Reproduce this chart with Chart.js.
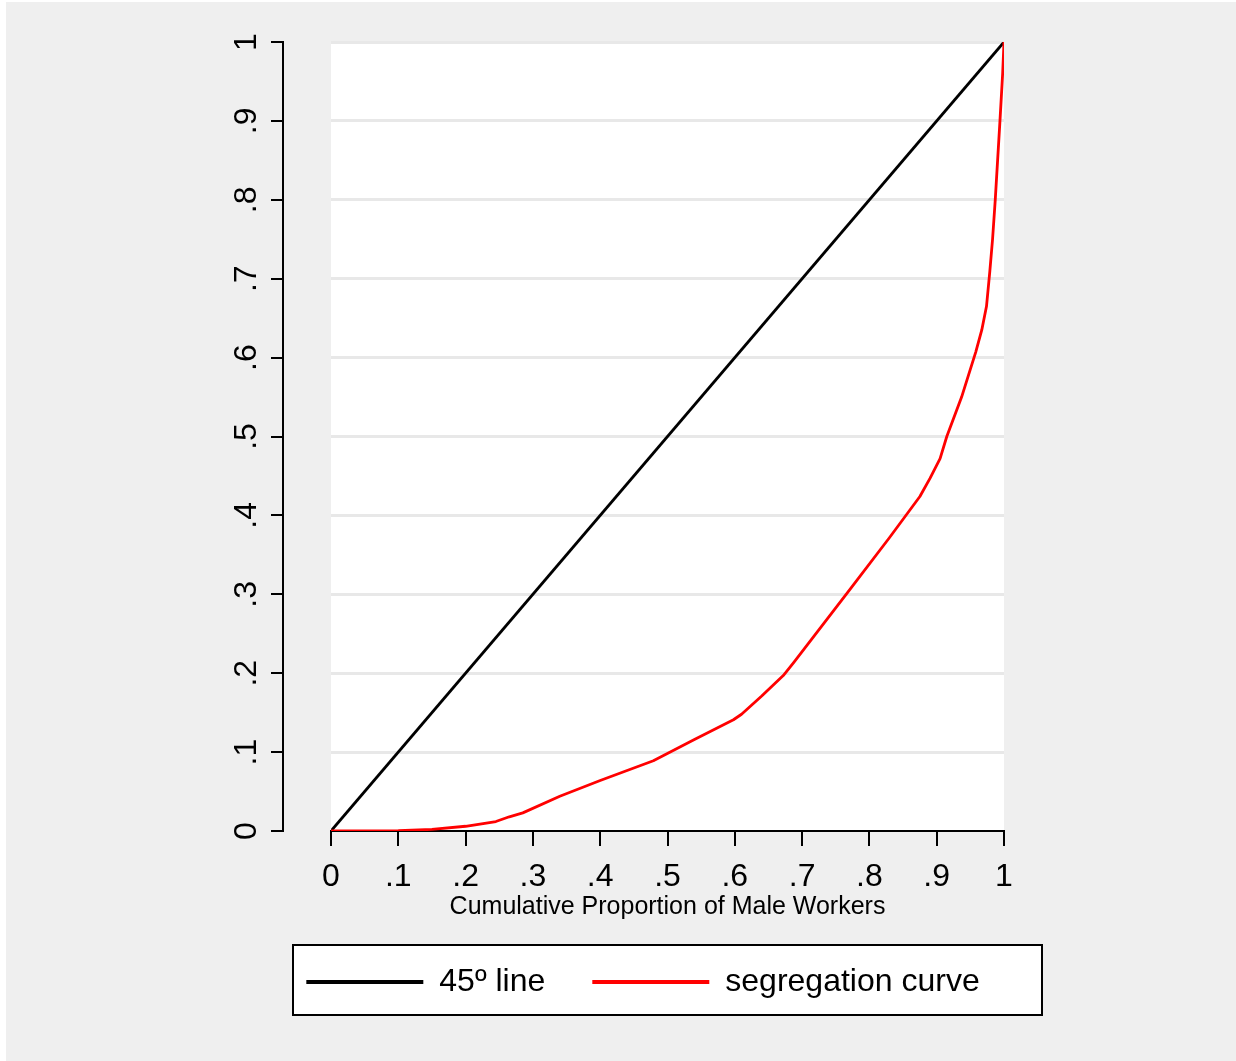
<!DOCTYPE html>
<html><head><meta charset="utf-8">
<script src="https://cdn.jsdelivr.net/npm/chart.js@4/dist/chart.umd.min.js"></script>
<style>html,body{margin:0;padding:0;background:#fff}canvas{display:block}</style>
</head><body>
<canvas id="c" width="1236" height="1061"></canvas>
<script>
const seriesNames = ['45º line', 'segregation curve'];
const diagX = [0, 1];
const diagY = [0, 1];
const segX = [0, 0.05, 0.1, 0.15, 0.2, 0.245, 0.265, 0.285, 0.34, 0.4, 0.479, 0.54, 0.598, 0.61, 0.64, 0.672, 0.688, 0.77, 0.83, 0.875, 0.89, 0.905, 0.915, 0.937, 0.958, 0.967, 0.974, 0.979, 0.983, 0.987, 0.994, 0.998, 1.0];
const segY = [0, 0, 0.0005, 0.002, 0.006, 0.012, 0.018, 0.023, 0.044, 0.064, 0.089, 0.116, 0.141, 0.148, 0.171, 0.197, 0.214, 0.305, 0.372, 0.424, 0.447, 0.472, 0.5, 0.55, 0.607, 0.635, 0.665, 0.71, 0.75, 0.8, 0.9, 0.96, 1.0];
const xTickLabels = ['0', '.1', '.2', '.3', '.4', '.5', '.6', '.7', '.8', '.9', '1'];
const yTickLabels = ['0', '.1', '.2', '.3', '.4', '.5', '.6', '.7', '.8', '.9', '1'];
const xTitle = 'Cumulative Proportion of Male Workers';

const toPoints = (xs, ys) => xs.map((x, i) => ({x: x, y: ys[i]}));

const BG = '#efefef';
const FONT = "'Liberation Sans', Arial, sans-serif";

const stataFrame = {
  id: 'stataFrame',
  beforeDraw(chart) {
    const ctx = chart.ctx, a = chart.chartArea;
    ctx.save();
    ctx.fillStyle = '#fff'; ctx.fillRect(0, 0, chart.width, chart.height);
    ctx.fillStyle = BG; ctx.fillRect(6, 2, chart.width - 6, chart.height - 2);
    ctx.fillStyle = '#fff'; ctx.fillRect(a.left, a.top, a.right - a.left, a.bottom - a.top);
    const lg = chart.legend;
    if (lg && lg.legendHitBoxes && lg.legendHitBoxes.length) {
      const hb = lg.legendHitBoxes[0];
      const cy = hb.top + hb.height / 2;
      const l = a.left - 38, r = a.right + 38, t = cy - 37, b = cy + 33;
      ctx.fillStyle = '#fff'; ctx.fillRect(l, t, r - l, b - t);
      ctx.strokeStyle = '#000'; ctx.lineWidth = 2; ctx.strokeRect(l, t, r - l, b - t);
    }
    ctx.restore();
  }
};

new Chart(document.getElementById('c'), {
  type: 'scatter',
  data: { datasets: [
    { label: seriesNames[0], data: toPoints(diagX, diagY), xAxisID: 'x', yAxisID: 'y', showLine: true,
      borderColor: '#000', backgroundColor: '#000', borderWidth: 2.8, pointRadius: 0, pointHoverRadius: 0, order: 1 },
    { label: seriesNames[1], data: toPoints(segX, segY), xAxisID: 'x', yAxisID: 'y', showLine: true,
      borderColor: '#ff0000', backgroundColor: '#ff0000', borderWidth: 2.8, borderJoinStyle: 'round',
      pointRadius: 0, pointHoverRadius: 0, order: 0 }
  ]},
  options: {
    responsive: false, animation: false, devicePixelRatio: 1,
    layout: { padding: { left: 50, right: 0, top: 42, bottom: 53 } },
    plugins: {
      tooltip: { enabled: false },
      legend: {
        position: 'bottom', align: 'center', fullSize: true,
        labels: {
          font: { family: FONT, size: 32 }, color: '#000', boxWidth: 117, boxHeight: 4, padding: 47,
          sort: (a, b) => a.datasetIndex - b.datasetIndex,
          generateLabels: (c) => Chart.defaults.plugins.legend.labels.generateLabels(c)
            .map(l => Object.assign(l, { lineWidth: 0, fillStyle: l.strokeStyle }))
        }
      }
    },
    scales: {
      x: {
        type: 'linear', position: 'bottom', min: 0, max: 1,
        ticks: { stepSize: 0.1, autoSkip: false, maxRotation: 0, padding: 12, color: '#000',
          font: { family: FONT, size: 32 }, callback: (v, i) => xTickLabels[i] },
        grid: { drawOnChartArea: false, color: '#000', lineWidth: 2, tickLength: 15 },
        border: { color: '#000', width: 2 },
        title: { display: true, text: xTitle, color: '#000',
          font: { family: FONT, size: 25, lineHeight: 0.92 }, padding: { top: 0, bottom: 0 } },
        afterFit: s => { s.height = 88; }
      },
      y: {
        type: 'linear', position: 'left', weight: 0, min: 0, max: 1,
        ticks: { stepSize: 0.1, display: false },
        grid: { drawTicks: false, color: c => c.index === 0 ? 'rgba(0,0,0,0)' : '#e8e8e8', lineWidth: 3 },
        border: { display: false },
        afterFit: s => { s.width = 48; }
      },
      y2: {
        type: 'linear', position: 'left', weight: 1, min: 0, max: 1,
        ticks: { stepSize: 0.1, autoSkip: false, minRotation: 90, maxRotation: 90, crossAlign: 'center',
          padding: 10, color: '#000', font: { family: FONT, size: 32 }, callback: (v, i) => yTickLabels[i] },
        grid: { drawOnChartArea: false, color: '#000', lineWidth: 2, tickLength: 12 },
        border: { color: '#000', width: 2 },
        afterFit: s => { s.width = 233; }
      },
      yR: {
        type: 'linear', position: 'right', min: 0, max: 1,
        ticks: { display: false }, grid: { display: false }, border: { display: false },
        afterFit: s => { s.width = 232; }
      }
    }
  },
  plugins: [stataFrame]
});
</script>
</body></html>
